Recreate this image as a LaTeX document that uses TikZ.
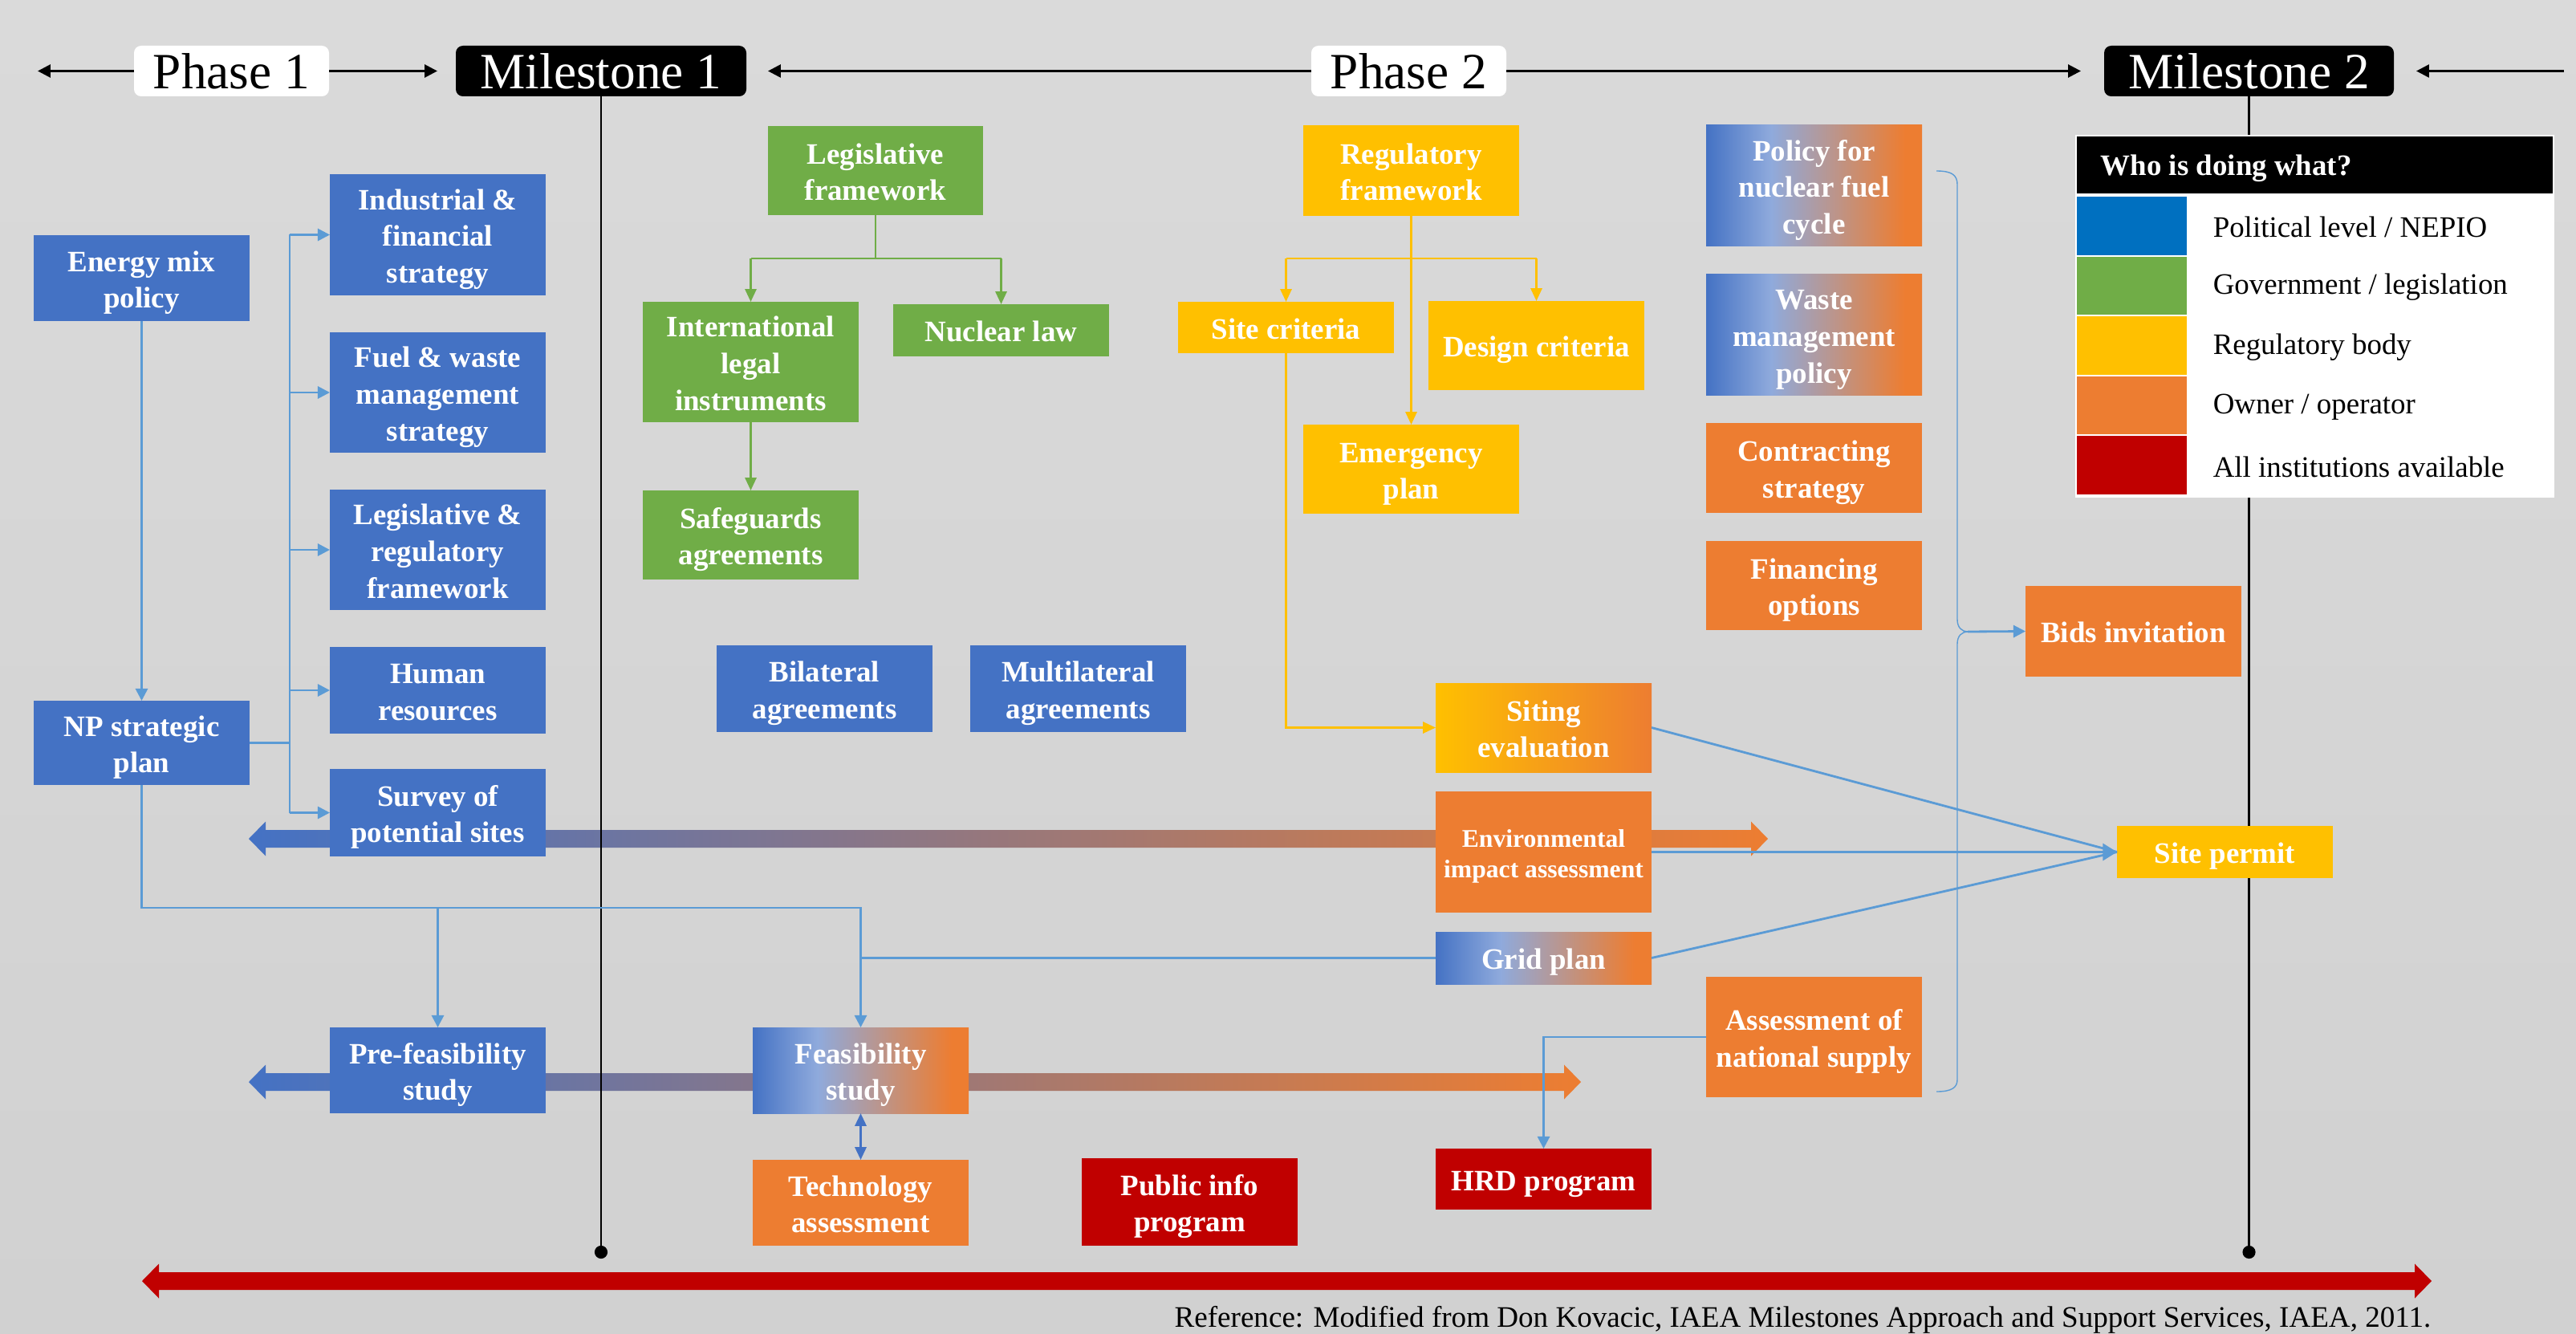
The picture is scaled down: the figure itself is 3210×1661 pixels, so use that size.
\documentclass[tikz,border=0pt]{standalone}
\usepackage{fontspec}
\setmainfont{Liberation Serif}
\usetikzlibrary{arrows.meta}
\definecolor{cblue}{HTML}{4472C4}
\definecolor{cgreen}{HTML}{70AD47}
\definecolor{cyellow}{HTML}{FFC000}
\definecolor{corange}{HTML}{ED7D31}
\definecolor{cred}{HTML}{C00000}
\definecolor{clight}{HTML}{8FAADC}
\definecolor{cline}{HTML}{5B9BD5}
\definecolor{lblue}{HTML}{0070C0}
\definecolor{bgtop}{RGB}{218,218,218}
\definecolor{bgbot}{RGB}{209,209,209}
\pgfdeclarehorizontalshading{bo}{100bp}{color(0bp)=(cblue); color(25bp)=(cblue); color(40bp)=(clight); color(71bp)=(corange); color(100bp)=(corange)}
\newcommand{\mybox}[7]{\node[#6, minimum width={(#4-#2)*0.01cm}, minimum height={(#5-#3)*0.01cm}] (#1) at ({(#2+#4)/2},{(#3+#5)/2}) {#7};}
\newcommand{\stacktext}[1]{\begin{tabular}{@{}c@{}}#1\end{tabular}}
\newcommand{\mytbox}[8]{\node[#6, minimum width={(#4-#2)*0.01cm}, minimum height={(#5-#3)*0.01cm}] (#1) at ({(#2+#4)/2},{(#3+#5)/2}) {};
  \node[#7] (#1-t) at ([yshift=-1.5pt]#1.center) {\stacktext{#8}};}
\tikzset{
  bx/.style={rectangle, inner sep=0pt, outer sep=0pt},
  bt/.style={inner sep=0pt, text=white, font=\fontsize{10.5}{13}\selectfont\bfseries},
  bts/.style={inner sep=0pt, text=white, font=\fontsize{9}{10.7}\selectfont\bfseries},
  fblue/.style={bx, fill=cblue},
  fgreen/.style={bx, fill=cgreen},
  fyellow/.style={bx, fill=cyellow},
  forange/.style={bx, fill=corange},
  fred/.style={bx, fill=cred},
  fgrad/.style={bx, shade, shading=bo},
  fsite/.style={bx, left color=cyellow, right color=corange},
  phasebox/.style={rectangle, rounded corners=2.5pt, inner sep=0pt, outer sep=0pt, fill=white, text=black, font=\fontsize{18}{20}\selectfont},
  msbox/.style={phasebox, fill=black, text=white},
  harrow/.style={draw=black, line width=0.8pt, -{Triangle[length=4.5pt,width=4.5pt]}},
  msline/.style={draw=black, line width=0.8pt},
  conn/.style={draw=cline, line width=0.8pt},
  carrow/.style={conn, -{Triangle[length=4.3pt,width=4.3pt]}},
  parrow/.style={conn, -{Triangle[length=5pt,width=6pt]}},
  garrow/.style={draw=cgreen, line width=0.7pt, -{Triangle[length=4.5pt,width=4pt]}},
  gline/.style={draw=cgreen, line width=0.7pt},
  yarrow/.style={draw=cyellow, line width=0.7pt, -{Triangle[length=4.5pt,width=4pt]}},
  yline/.style={draw=cyellow, line width=0.7pt},
  darrow/.style={draw=cblue, line width=0.8pt, {Triangle[length=4.5pt,width=4pt]}-{Triangle[length=4.5pt,width=4pt]}},
  thin/.style={draw=cline, line width=0.4pt},
  swatch/.style={rectangle, inner sep=0pt, outer sep=0pt},
  legtext/.style={anchor=west, inner sep=0pt, text=black, font=\fontsize{10.5}{12}\selectfont},
}
\begin{document}
\begin{tikzpicture}[x=0.01cm,y=-0.01cm]
\useasboundingbox (0,0) rectangle (3210,1661);
\shade[top color=bgtop, bottom color=bgbot] (0,0) rectangle (3210,1661);

% thick timeline arrows
\shade[left color=cblue, right color=corange] (310,1045) -- (331,1023.5) -- (331,1034) -- (2182,1034) -- (2182,1023.5) -- (2203,1045) -- (2182,1066.5) -- (2182,1056) -- (331,1056) -- (331,1066.5) -- cycle;
\shade[left color=cblue, right color=corange] (310,1348) -- (331,1326.5) -- (331,1337) -- (1949,1337) -- (1949,1326.5) -- (1970,1348) -- (1949,1369.5) -- (1949,1359) -- (331,1359) -- (331,1369.5) -- cycle;
\fill[cred] (177,1596) -- (198,1574.5) -- (198,1585) -- (3009,1585) -- (3009,1574.5) -- (3030,1596) -- (3009,1617.5) -- (3009,1607) -- (198,1607) -- (198,1617.5) -- cycle;

% header
\mybox{phaseA}{167}{57}{410}{120}{phasebox}{Phase 1}
\mybox{msA}{568}{57}{930}{120}{msbox}{Milestone 1}
\mybox{phaseB}{1634}{57}{1877}{120}{phasebox}{Phase 2}
\mybox{msB}{2622}{57}{2983}{120}{msbox}{Milestone 2}
\coordinate (hl) at (47,88.5);
\coordinate (hA) at (545,88.5);
\coordinate (hB) at (957,88.5);
\coordinate (hC) at (2593,88.5);
\coordinate (hR) at (3195,88.5);
\coordinate (hD) at (3011,88.5);
\draw[harrow] (phaseA.west) -- (hl);
\draw[harrow] (phaseA.east) -- (hA);
\draw[harrow] (phaseB.west) -- (hB);
\draw[harrow] (phaseB.east) -- (hC);
\draw[harrow] (hR) -- (hD);

% milestone lines
\coordinate (msAend) at (749,1560);
\coordinate (msBend) at (2802.5,1560);
\draw[msline] (msA.south) -- (msAend);
\draw[msline] (msB.south) -- (msBend);
\fill (msAend) circle[radius=2.3pt];
\fill (msBend) circle[radius=2.3pt];

% boxes
\mytbox{energy}{42}{293}{311}{400}{fblue}{bt}{Energy mix\\policy}
\mytbox{np}{42}{873}{311}{978}{fblue}{bt}{NP strategic\\plan}
\mytbox{ind}{411}{217}{680}{368}{fblue}{bt}{Industrial \&\\financial\\strategy}
\mytbox{fuel}{411}{414}{680}{564}{fblue}{bt}{Fuel \& waste\\management\\strategy}
\mytbox{legreg}{411}{610}{680}{760}{fblue}{bt}{Legislative \&\\regulatory\\framework}
\mytbox{human}{411}{806}{680}{914}{fblue}{bt}{Human\\resources}
\mytbox{survey}{411}{958}{680}{1067}{fblue}{bt}{Survey of\\potential sites}
\mytbox{prefeas}{411}{1280}{680}{1387}{fblue}{bt}{Pre-feasibility\\study}
\mytbox{legis}{957}{157}{1225}{268}{fgreen}{bt}{Legislative\\framework}
\mytbox{intl}{801}{376}{1070}{526}{fgreen}{bt}{International\\legal\\instruments}
\mytbox{nuclaw}{1113}{379}{1382}{444}{fgreen}{bt}{Nuclear law}
\mytbox{safeg}{801}{611}{1070}{722}{fgreen}{bt}{Safeguards\\agreements}
\mytbox{bilat}{893}{804}{1162}{912}{fblue}{bt}{Bilateral\\agreements}
\mytbox{multi}{1209}{804}{1478}{912}{fblue}{bt}{Multilateral\\agreements}
\mytbox{reg}{1624}{156}{1893}{269}{fyellow}{bt}{Regulatory\\framework}
\mytbox{sitecrit}{1468}{376}{1737}{440}{fyellow}{bt}{Site criteria}
\mytbox{design}{1780}{375}{2049}{486}{fyellow}{bt}{Design criteria}
\mytbox{emerg}{1624}{529}{1893}{640}{fyellow}{bt}{Emergency\\plan}
\mytbox{siting}{1789}{851}{2058}{962}{fsite}{bt}{Siting\\evaluation}
\mytbox{eia}{1789}{986}{2058}{1137}{forange}{bts}{Environmental\\impact assessment}
\mytbox{grid}{1789}{1161}{2058}{1226}{fgrad}{bt}{Grid plan}
\mytbox{feas}{938}{1280}{1207}{1387}{fgrad}{bt}{Feasibility\\study}
\mytbox{tech}{938}{1445}{1207}{1552}{forange}{bt}{Technology\\assessment}
\mytbox{public}{1348}{1443}{1617}{1552}{fred}{bt}{Public info\\program}
\mytbox{hrd}{1789}{1431}{2058}{1507}{fred}{bt}{HRD program}
\mytbox{policy}{2126}{156}{2395}{307}{fgrad}{bt}{Policy for\\nuclear fuel\\cycle}
\mytbox{waste}{2126}{342}{2395}{492}{fgrad}{bt}{Waste\\management\\policy}
\mytbox{contract}{2126}{527}{2395}{639}{forange}{bt}{Contracting\\strategy}
\mytbox{finance}{2126}{674}{2395}{785}{forange}{bt}{Financing\\options}
\mytbox{assess}{2126}{1217}{2395}{1367}{forange}{bt}{Assessment of\\national supply}
\mytbox{bids}{2524}{730}{2793}{843}{forange}{bt}{Bids invitation}
\mytbox{permit}{2638}{1029}{2907}{1094}{fyellow}{bt}{Site permit}

% blue connectors, phase 1
\coordinate (bus) at (361,0);
\coordinate (route) at (0,1131);
\draw[carrow] (energy.south) -- (np.north);
\draw[conn] (np.east) -- (np.east -| bus);
\draw[conn] (bus |- ind.west) -- (bus |- survey.west);
\draw[carrow] (bus |- ind.west) -- (ind.west);
\draw[carrow] (bus |- fuel.west) -- (fuel.west);
\draw[carrow] (bus |- legreg.west) -- (legreg.west);
\draw[carrow] (bus |- human.west) -- (human.west);
\draw[carrow] (bus |- survey.west) -- (survey.west);
\draw[carrow] (np.south) -- (np.south |- route) -- (route -| feas.north) -- (feas.north);
\draw[carrow] (prefeas.north |- route) -- (prefeas.north);
\draw[conn] (grid.west) -- (grid.west -| feas.north);
\draw[darrow] (feas.south) -- (tech.north);

% green connectors
\coordinate (gj) at (0,322);
\draw[gline] (legis.south) -- (legis.south |- gj);
\draw[gline] (intl.north |- gj) -- (nuclaw.north |- gj);
\draw[garrow] (intl.north |- gj) -- (intl.north);
\draw[garrow] (nuclaw.north |- gj) -- (nuclaw.north);
\draw[garrow] (intl.south) -- (safeg.north);

% yellow connectors
\coordinate (yj) at (0,322);
\draw[yarrow] (reg.south) -- (emerg.north);
\draw[yline] (sitecrit.north |- yj) -- (design.north |- yj);
\draw[yarrow] (sitecrit.north |- yj) -- (sitecrit.north);
\draw[yarrow] (design.north |- yj) -- (design.north);
\draw[yarrow] (sitecrit.south) |- (siting.west);

% phase 2 blue connectors
\draw[carrow] (assess.west) -| (hrd.north);
\draw[conn] (siting.east) -- (permit.west);
\draw[conn] (grid.east) -- (permit.west);
\draw[parrow] (eia.east) -- (permit.west);

% bracket
\coordinate (brtip) at (2452,787);
\draw[thin] (2413,213) .. controls (2432,213) and (2439,218) .. (2439,230) -- (2439,772) .. controls (2439,782) and (2445,787) .. (brtip) .. controls (2445,787) and (2439,792) .. (2439,802) -- (2439,1345) .. controls (2439,1355) and (2432,1360) .. (2413,1360);
\draw[carrow] (brtip) -- (bids.west);

% legend
\mybox{legend}{2586}{168}{3183}{620}{swatch, fill=white}{}
\mybox{lhead}{2588}{170}{3181}{241}{swatch, fill=black}{}
\node[anchor=west, inner sep=0pt, text=white, font=\fontsize{10.5}{12}\selectfont\bfseries] (ltitle) at (2617,210) {Who is doing what?};
\mybox{sA}{2588}{245}{2725}{317.6}{swatch, fill=lblue}{}
\mybox{sB}{2588}{319.6}{2725}{392.2}{swatch, fill=cgreen}{}
\mybox{sC}{2588}{394.2}{2725}{466.8}{swatch, fill=cyellow}{}
\mybox{sD}{2588}{468.8}{2725}{541.4}{swatch, fill=corange}{}
\mybox{sE}{2588}{543.4}{2725}{616}{swatch, fill=cred}{}
\node[legtext] (tA) at (2757,283) {Political level / NEPIO};
\node[legtext] (tB) at (2757,358) {Government / legislation};
\node[legtext] (tC) at (2757,432.5) {Regulatory body};
\node[legtext] (tD) at (2757,507) {Owner / operator};
\node[legtext] (tE) at (2757,582) {All institutions available};

% reference
\node[anchor=base east, inner sep=0pt, font=\rmfamily\fontsize{10.55}{12}\selectfont] (ref) at (3030,1653) {Reference: Modified from Don Kovacic, IAEA Milestones Approach and Support Services, IAEA, 2011.};
\end{tikzpicture}
\end{document}
